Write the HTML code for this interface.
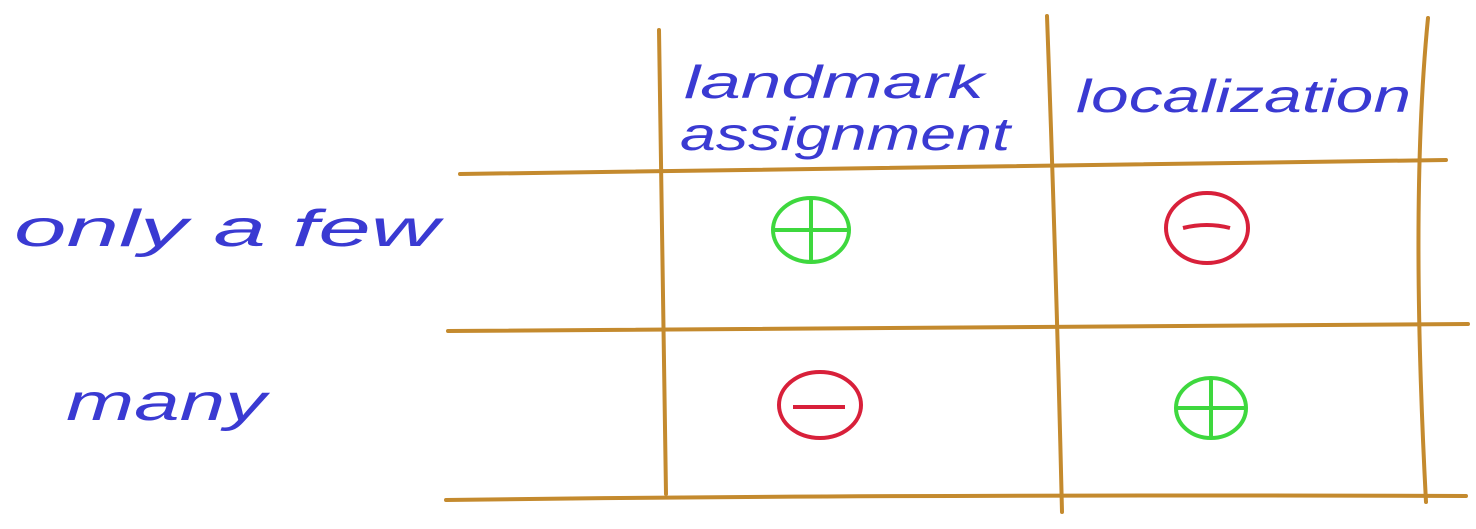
<!DOCTYPE html>
<html><head><meta charset="utf-8"><style>
html,body{margin:0;padding:0;background:#fff;}
svg{display:block;}
text{font-family:"Liberation Sans",sans-serif;font-style:italic;fill:#3a3ad2;}
</style></head><body>
<svg width="1476" height="529" viewBox="0 0 1476 529">
<rect width="1476" height="529" fill="#fff"/>
<g stroke="#c48a2e" stroke-width="4" fill="none" stroke-linecap="round">
<path d="M659 30 Q662 250 666 494"/>
<path d="M1047 16 Q1056 260 1062 512"/>
<path d="M1428 18 Q1410 200 1426 502"/>
<path d="M460 174 Q900 168 1446 160"/>
<path d="M448 331 Q900 326 1468 324"/>
<path d="M446 500 Q900 494 1466 496"/>
</g>
<text x="684" y="98" font-size="46" textLength="300" lengthAdjust="spacingAndGlyphs">landmark</text>
<text x="680" y="150" font-size="46" textLength="330" lengthAdjust="spacingAndGlyphs">assignment</text>
<text x="1076" y="112" font-size="46" textLength="335" lengthAdjust="spacingAndGlyphs">localization</text>
<text x="14" y="246" font-size="52" textLength="425" lengthAdjust="spacingAndGlyphs">only  a few</text>
<text x="66" y="420" font-size="52" textLength="200" lengthAdjust="spacingAndGlyphs">many</text>
<g stroke-width="4" fill="none">
<g stroke="#3ed83e">
<ellipse cx="811" cy="230" rx="38" ry="32"/><path d="M775 230 H848 M811 198 V262"/></g>
<g stroke="#d8203a">
<ellipse cx="1207" cy="228" rx="41" ry="35"/><path d="M1183 228 Q1207 222 1230 228"/></g>
<g stroke="#d8203a">
<ellipse cx="820" cy="405" rx="41" ry="33"/><path d="M793 407 H845"/></g>
<g stroke="#3ed83e">
<ellipse cx="1211" cy="408" rx="35" ry="30"/><path d="M1177 408 H1245 M1211 379 V437"/></g>
</g>
</svg>
</body></html>
